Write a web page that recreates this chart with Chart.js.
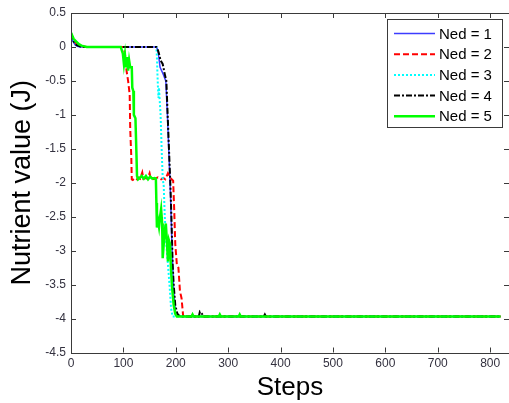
<!DOCTYPE html>
<html>
<head>
<meta charset="utf-8">
<script src="https://cdn.jsdelivr.net/npm/chart.js@4.4.1/dist/chart.umd.min.js"></script>
<style>
  html, body { margin: 0; padding: 0; background: #fff; overflow: hidden; }
  #wrap { width: 509px; height: 403px; }
</style>
</head>
<body>
<div id="wrap"><canvas id="main-chart" width="509" height="403"></canvas></div>
<script>
// tick labels
const xTickLabels = ['0', '100', '200', '300', '400', '500', '600', '700', '800'];
const yTickLabels = ['-4.5', '-4', '-3.5', '-3', '-2.5', '-2', '-1.5', '-1', '-0.5', '0', '0.5'];

const seriesNames = ['Ned = 1', 'Ned = 2', 'Ned = 3', 'Ned = 4', 'Ned = 5'];

// Ned = 1 (mostly hidden under the others)
const ned1Steps  = [0, 4, 8, 12, 18, 100, 163, 166, 170, 176, 181, 184, 187, 190, 193, 196, 200, 210, 820];
const ned1Values = [0.17, 0.08, 0.03, 0.01, 0, 0, 0, -0.05, -0.3, -0.4, -0.5, -1.0, -1.6, -2.2, -3.0, -3.6, -3.95, -3.97, -3.97];

// Ned = 2
const ned2Steps  = [0, 5, 10, 20, 30, 100, 103, 106, 109, 112, 113, 115, 116, 118, 122, 126, 128, 132, 136, 138,
                    140, 146, 150, 152, 154, 160, 166, 172, 176, 180, 185, 188, 192, 195, 197, 199, 202, 205,
                    208, 211, 214, 218, 230, 233, 236, 250, 820];
const ned2Values = [0.2, 0.1, 0.05, 0.01, 0, 0, -0.1, -0.35, -0.5, -0.7, -1.2, -1.6, -1.95, -1.96, -1.93, -1.95, -1.92, -1.94, -1.85, -1.94,
                    -1.93, -1.94, -1.86, -1.93, -1.95, -1.94, -1.92, -1.95, -1.93, -1.95, -1.86, -1.9, -1.95, -1.97, -2.4, -2.9, -3.2, -3.25,
                    -3.6, -3.7, -3.96, -3.97, -3.97, -3.93, -3.97, -3.97, -3.97];

// Ned = 3
const ned3Steps  = [0, 5, 10, 20, 163, 164, 165, 166, 167, 168, 169, 171, 173, 175, 177, 179, 182, 185, 188, 191, 194, 820];
const ned3Values = [0.2, 0.08, 0.03, 0, 0, -0.15, -0.4, -0.6, -0.75, -0.6, -0.75, -1.0, -1.5, -1.93, -2.05, -2.5, -2.9, -3.2, -3.5, -3.85, -3.97, -3.97];

// Ned = 4
const ned4Steps  = [0, 5, 10, 20, 163, 166, 168, 171, 175, 179, 182, 184, 186, 188, 190, 192, 194, 196, 199, 203, 208,
                    244, 246, 250, 253, 368, 370, 372, 820];
const ned4Values = [0.2, 0.08, 0.03, 0, 0, -0.05, -0.1, -0.2, -0.25, -0.4, -0.5, -0.9, -1.3, -1.7, -2.1, -2.6, -3.2, -3.5, -3.8, -3.93, -3.97,
                    -3.97, -3.9, -3.93, -3.97, -3.97, -3.94, -3.97, -3.97];

// Ned = 5
const ned5Steps  = [0, 5, 10, 15, 20, 30, 95, 97, 99, 101, 103, 105, 107, 109, 111, 113, 116, 117, 119, 120, 123, 125, 126, 128,
                    131, 135, 139, 143, 147, 151, 155, 159, 162, 163, 164, 166, 168, 170, 172, 174, 175, 177, 179, 181, 183,
                    185, 187, 189, 191, 193, 196, 199, 202, 230, 232, 234, 282, 284, 286, 320, 322, 324, 820];
const ned5Values = [0.21, 0.12, 0.08, 0.04, 0.02, 0, 0, -0.05, -0.1, -0.25, -0.12, -0.3, -0.15, -0.35, -0.2, -0.3, -0.3, -0.6, -0.65, -1.0, -1.05, -1.6, -1.9, -1.95,
                    -1.93, -1.9, -1.94, -1.9, -1.95, -1.91, -1.94, -1.93, -1.94, -2.3, -2.66, -2.55, -2.65, -2.5, -2.39, -2.6, -3.11, -2.9, -2.71, -2.6, -2.86,
                    -3.16, -2.85, -2.9, -3.3, -3.55, -3.8, -3.93, -3.97, -3.97, -3.94, -3.97, -3.97, -3.94, -3.97, -3.97, -3.94, -3.97, -3.97];

const seriesSteps  = [ned1Steps, ned2Steps, ned3Steps, ned4Steps, ned5Steps];
const seriesValues = [ned1Values, ned2Values, ned3Values, ned4Values, ned5Values];
const seriesColors = ['#3c3cff', '#ff0000', '#00ffff', '#000000', '#00ff00'];
const seriesWidths = [1.5, 2, 2, 2, 2.5];
const seriesDashes = [[], [6, 3], [2, 2], [6, 2, 2, 2], []];

const tickColor = '#33313f';
const axisColor = '#3a3a3a';

function toPoints(steps, values) {
    let pts = [];
    for (let i = 0; i < steps.length; i++) {
        pts.push({ x: steps[i], y: values[i] });
    }
    return pts;
}

let datasets = [];
for (let i = 0; i < seriesNames.length; i++) {
    datasets.push({
        label: seriesNames[i],
        data: toPoints(seriesSteps[i], seriesValues[i]),
        borderColor: seriesColors[i],
        backgroundColor: seriesColors[i],
        borderWidth: seriesWidths[i],
        borderDash: seriesDashes[i],
        pointRadius: 0,
        fill: false,
        tension: 0,
        order: seriesNames.length - 1 - i
    });
}

// matlab style box with inward ticks
const axesBox = {
    id: 'axesBox',
    afterDatasetsDraw(chart) {
        const ctx = chart.ctx;
        const a = chart.chartArea;
        const xs = chart.scales.x, ys = chart.scales.y;
        const len = 5;
        ctx.save();
        ctx.strokeStyle = axisColor;
        ctx.lineWidth = 1;
        ctx.beginPath();
        ctx.moveTo(Math.round(a.left) + 0.5, Math.round(a.top) + 0.5);
        ctx.lineTo(Math.round(a.left) + 0.5, Math.round(a.bottom) + 0.5);
        ctx.lineTo(a.right, Math.round(a.bottom) + 0.5);
        ctx.moveTo(Math.round(a.left) + 0.5, Math.round(a.top) + 0.5);
        ctx.lineTo(a.right, Math.round(a.top) + 0.5);
        xs.ticks.forEach(t => {
            const px = Math.round(xs.getPixelForValue(t.value)) + 0.5;
            ctx.moveTo(px, a.bottom); ctx.lineTo(px, a.bottom - len);
            ctx.moveTo(px, a.top); ctx.lineTo(px, a.top + len);
        });
        ys.ticks.forEach(t => {
            const py = Math.round(ys.getPixelForValue(t.value)) + 0.5;
            ctx.moveTo(a.left, py); ctx.lineTo(a.left + len, py);
            ctx.moveTo(a.right, py); ctx.lineTo(a.right - len, py);
        });
        ctx.stroke();
        ctx.restore();
    }
};

// legend box in the upper right corner
const insideLegend = {
    id: 'insideLegend',
    afterDraw(chart) {
        const ctx = chart.ctx;
        const left = 387.5, top = 19.5, w = 115, h = 108;
        ctx.save();
        ctx.fillStyle = '#ffffff';
        ctx.fillRect(left, top, w, h);
        ctx.strokeStyle = axisColor;
        ctx.lineWidth = 1;
        ctx.strokeRect(left, top, w, h);
        ctx.font = '15px "Liberation Sans", Arial, sans-serif';
        ctx.textBaseline = 'middle';
        ctx.textAlign = 'left';
        chart.data.datasets.forEach((ds, i) => {
            const y = 33.5 + i * 20.7;
            ctx.strokeStyle = ds.borderColor;
            ctx.lineWidth = ds.borderWidth;
            ctx.setLineDash(ds.borderDash);
            ctx.beginPath();
            ctx.moveTo(394, y);
            ctx.lineTo(435, y);
            ctx.stroke();
            ctx.setLineDash([]);
            ctx.fillStyle = '#000';
            ctx.fillText(ds.label, 439, y + 1);
        });
        ctx.restore();
    }
};

const chart = new Chart(document.getElementById('main-chart'), {
    type: 'line',
    data: { datasets: datasets },
    plugins: [axesBox, insideLegend],
    options: {
        responsive: false,
        animation: false,
        devicePixelRatio: 1,
        events: [],
        layout: { padding: { top: 13, right: 0, left: 0, bottom: 0 } },
        plugins: { legend: { display: false }, tooltip: { enabled: false } },
        scales: {
            x: {
                type: 'linear',
                min: 0,
                max: 836,
                grid: { display: false, drawTicks: false },
                border: { display: false },
                ticks: {
                    stepSize: 100,
                    includeBounds: false,
                    autoSkip: false,
                    maxRotation: 0,
                    padding: 4,
                    color: tickColor,
                    font: { family: '"Liberation Sans", Arial, sans-serif', size: 12 },
                    callback: v => xTickLabels[Math.round(v / 100)]
                },
                title: {
                    display: true,
                    text: 'Steps',
                    color: '#000',
                    padding: { top: 0, bottom: 0 },
                    font: { family: '"Liberation Sans", Arial, sans-serif', size: 26, lineHeight: 1.2 }
                },
                afterFit: s => { s.height = 50.5; }
            },
            y: {
                min: -4.5,
                max: 0.5,
                grid: { display: false, drawTicks: false },
                border: { display: false },
                ticks: {
                    stepSize: 0.5,
                    autoSkip: false,
                    padding: 5,
                    color: tickColor,
                    font: { family: '"Liberation Sans", Arial, sans-serif', size: 12 },
                    callback: v => yTickLabels[Math.round((v + 4.5) / 0.5)]
                },
                title: {
                    display: true,
                    text: 'Nutrient value (J)',
                    color: '#000',
                    padding: { top: 6, bottom: 0 },
                    font: { family: '"Liberation Sans", Arial, sans-serif', size: 27, lineHeight: 1.2 }
                },
                afterFit: s => { s.width = 71; }
            }
        }
    }
});
</script>
</body>
</html>
